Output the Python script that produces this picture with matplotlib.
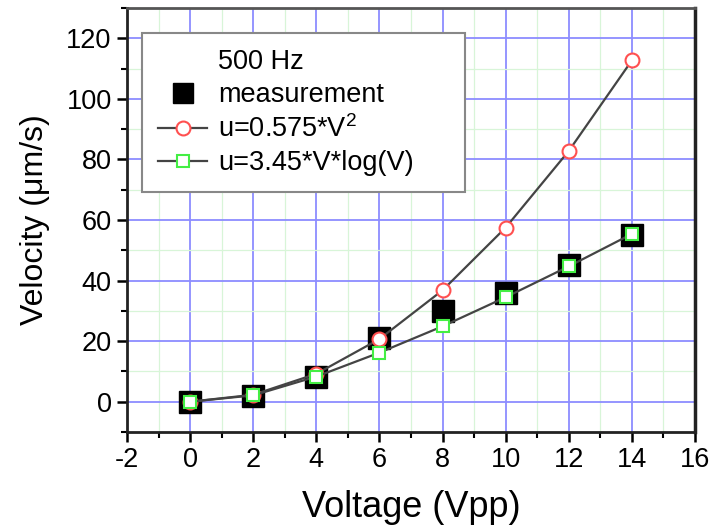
import matplotlib
matplotlib.use("Agg")
import matplotlib.pyplot as plt
from matplotlib.lines import Line2D
from matplotlib.ticker import MultipleLocator

plt.rcParams['font.family'] = ['Liberation Sans', 'DejaVu Sans']
plt.rcParams['mathtext.default'] = 'regular'
plt.rcParams['axes.unicode_minus'] = False

voltage = [0, 2, 4, 6, 8, 10, 12, 14]
measurement = [0, 2, 8, 21, 30, 36, 45, 55]
model_sq = [0, 2.3, 9.2, 20.7, 36.8, 57.5, 82.8, 112.7]
model_log = [0, 2.1, 8.3, 16.2, 24.9, 34.5, 44.7, 55.4]

x_ticks = [-2, 0, 2, 4, 6, 8, 10, 12, 14, 16]
y_ticks = [0, 20, 40, 60, 80, 100, 120]

fig = plt.figure(figsize=(7.1, 5.25), dpi=100)
ax = fig.add_axes([127/710, 1-432/525, (695-127)/710, (432-8)/525])

ax.set_xlim(-2, 16)
ax.set_ylim(-10, 130)
ax.set_xticks(x_ticks)
ax.set_yticks(y_ticks)
ax.xaxis.set_minor_locator(MultipleLocator(1))
ax.yaxis.set_minor_locator(MultipleLocator(10))

ax.grid(which='major', color='#8c8cff', linewidth=1.3, zorder=0)
ax.grid(which='minor', color='#d8f5d8', linewidth=0.9, zorder=0)
ax.set_axisbelow(True)

ax.plot(voltage, measurement, linestyle='none', marker='s', markersize=16,
        color='black', zorder=3)
ax.plot(voltage, model_sq, color='#444444', linewidth=1.6, marker='o',
        markersize=10, markerfacecolor='white', markeredgecolor='#ff5050',
        markeredgewidth=1.5, zorder=4)
ax.plot(voltage, model_log, color='#444444', linewidth=1.6, marker='s',
        markersize=9, markerfacecolor='white', markeredgecolor='#44ee44',
        markeredgewidth=1.5, zorder=5)

for s in ['left', 'bottom']:
    ax.spines[s].set_linewidth(2)
    ax.spines[s].set_color('#222222')
ax.spines['top'].set_linewidth(2)
ax.spines['top'].set_color('#555555')
ax.spines['right'].set_linewidth(2.5)
ax.spines['right'].set_color('#222222')

ax.tick_params(which='major', direction='out', length=7, width=1.8,
               labelsize=19.5, top=False, right=False, pad=4)
ax.tick_params(which='minor', direction='out', length=4, width=1.5,
               top=False, right=False)

ax.set_xlabel('Voltage (Vpp)', fontsize=26, labelpad=12)
ax.set_ylabel('Velocity (μm/s)', fontsize=23, labelpad=12)

handles = [
    Line2D([], [], linestyle='none'),
    Line2D([], [], linestyle='none', marker='s', markersize=15, color='black'),
    Line2D([], [], color='#444444', linewidth=1.6, marker='o', markersize=10,
           markerfacecolor='white', markeredgecolor='#ff5050', markeredgewidth=1.5),
    Line2D([], [], color='#444444', linewidth=1.6, marker='s', markersize=9,
           markerfacecolor='white', markeredgecolor='#44ee44', markeredgewidth=1.5),
]
labels = ['500 Hz', 'measurement', 'u=0.575*V$^{2}$', 'u=3.45*V*log(V)']
x0 = (142 - 127) / 568
y1 = (432 - 33) / 424
w = (465 - 142) / 568
h = (183 - 33) / 424
leg = ax.legend(handles, labels, loc='upper left',
                bbox_to_anchor=(x0, y1 - h, w, h), mode='expand',
                borderaxespad=0, fontsize=19.5, frameon=True, fancybox=False,
                edgecolor='#888888', framealpha=1, handlelength=1.8,
                handletextpad=0.4, labelspacing=0.26, borderpad=0.6)
leg.get_frame().set_linewidth(1.5)

fig.savefig('out.png', dpi=100)
